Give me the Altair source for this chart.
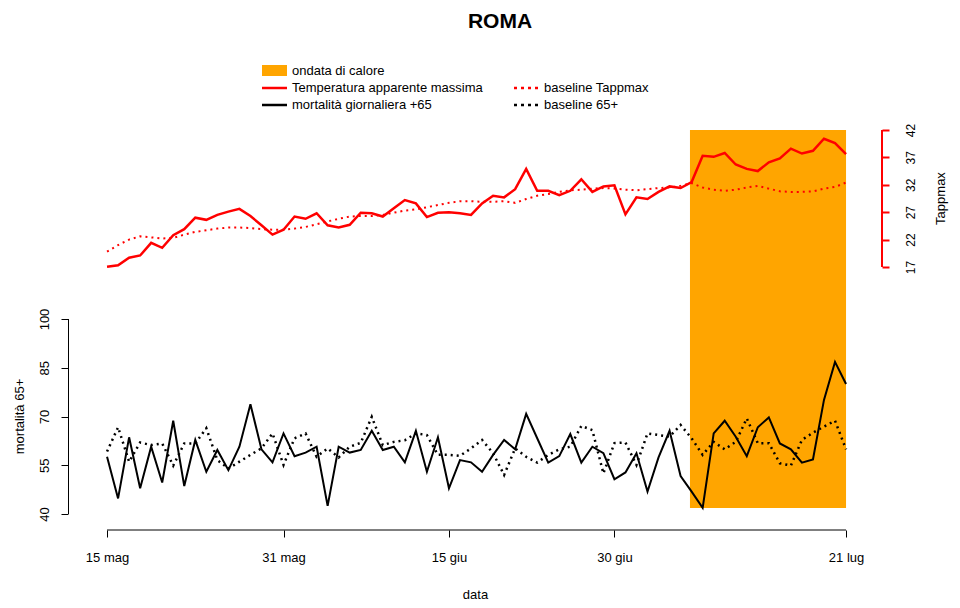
import altair as alt
import pandas as pd

temp = [17.05,17.3,18.7,19.1,21.4,20.5,22.8,23.9,26.0,25.6,26.5,27.1,27.6,26.3,24.6,22.9,23.8,26.2,25.8,26.8,
        24.6,24.2,24.7,26.9,26.8,26.2,27.7,29.2,28.6,26.1,26.9,27.0,26.8,26.5,28.6,30.0,29.7,31.2,34.9,30.9,
        30.9,30.1,30.9,33.0,30.7,31.7,31.9,26.6,29.7,29.4,30.7,31.7,31.4,32.5,37.3,37.1,37.8,35.7,34.9,34.5,
        36.1,36.8,38.6,37.7,38.2,40.4,39.6,37.6]
temp_base = [19.8,21.0,22.0,22.6,22.4,22.2,22.3,22.9,23.4,23.7,24.0,24.2,24.2,24.1,23.9,23.8,23.8,24.0,24.3,24.8,
             25.3,25.8,26.2,26.3,26.3,26.5,26.9,27.3,27.5,27.9,28.3,28.7,29.0,29.0,28.9,28.9,29.0,28.7,29.4,30.0,
             30.3,30.7,31.0,31.1,31.3,31.4,31.3,31.1,31.0,31.2,31.4,31.5,31.8,32.3,31.5,31.1,30.9,31.1,31.5,31.8,
             31.3,30.8,30.7,30.7,30.8,31.3,31.6,32.4]
mort = [57.6,44.8,63.6,47.9,60.7,49.7,68.7,48.6,62.8,53.0,59.7,53.5,60.7,73.8,59.9,55.9,64.8,57.8,58.9,60.7,
        42.5,60.7,58.9,59.7,65.6,59.7,60.7,55.9,65.6,53.0,63.6,47.9,56.6,55.9,53.0,58.2,62.8,59.9,70.8,63.3,
        55.8,57.8,64.6,55.8,60.7,58.7,50.7,52.8,58.7,46.9,57.4,65.6,51.7,46.9,41.9,64.8,68.7,63.8,57.8,66.7,
        69.7,61.7,59.9,55.8,56.8,75.1,86.8,80.0]
mort_base = [59.2,66.7,56.1,62.0,61.2,61.7,54.9,61.7,61.7,66.4,56.6,54.0,56.1,58.2,60.2,64.8,55.1,63.3,64.8,57.6,
             60.2,57.4,60.7,61.9,69.9,61.2,62.2,62.7,64.8,64.3,58.2,58.2,57.9,60.2,62.8,58.7,52.0,60.2,57.6,55.8,
             58.2,59.9,60.7,67.1,65.8,52.5,61.8,62.0,55.1,64.8,64.3,63.8,67.4,63.3,58.2,62.2,59.9,62.2,69.4,61.8,
             61.8,55.6,54.9,62.8,65.0,66.9,68.7,59.9]
tick_days = [0, 16, 31, 46, 67]
tick_labels = ["15 mag", "31 mag", "15 giu", "30 giu", "21 lug"]
wave_start, wave_end = 52.85, 67

W, H = 814, 410
FONT = "Liberation Sans"
df = pd.DataFrame({"day": list(range(len(temp))), "temp": temp, "temp_base": temp_base,
                   "mort": mort, "mort_base": mort_base})

lab_expr = "{" + ",".join(f"'{d}':'{l}'" for d, l in zip(tick_days, tick_labels)) + "}[''+datum.value]"
xs = alt.Scale(domain=[-3.54, 70.26], nice=False, zero=False)
xaxis = alt.Axis(values=tick_days, labelExpr=lab_expr, title="data", grid=False, domain=False,
                 tickColor="black", tickSize=7, labelPadding=14, titleY=64, titleBaseline="middle",
                 labelFontSize=13, titleFontSize=13, labelFont=FONT, titleFont=FONT,
                 labelColor="black", titleColor="black", labelFontWeight="normal", titleFontWeight="normal")

base = alt.Chart(df)

wave = alt.Chart(pd.DataFrame({"a": [wave_start], "b": [wave_end]})).mark_rect(color="#FFA500").encode(
    x=alt.X("a:Q", scale=xs, axis=xaxis), x2="b:Q", y=alt.value(10), y2=alt.value(388))

xline = alt.Chart(pd.DataFrame({"a": [tick_days[0]], "b": [tick_days[-1]]})).mark_rule(
    stroke="black", strokeWidth=1).encode(x="a:Q", x2="b:Q", y=alt.value(H))

ms = alt.Scale(domain=[35.08, 161.23], nice=False, zero=False)
my = alt.Axis(values=[40, 55, 70, 85, 100], title="mortalità 65+", orient="left", grid=False, domain=False,
              tickColor="black", tickSize=7, labelAngle=270, labelAlign="center", labelBaseline="bottom",
              labelPadding=10, titlePadding=12, titleY=296, labelFontSize=13, titleFontSize=13,
              labelFont=FONT, titleFont=FONT,
              labelColor="black", titleColor="black", titleFontWeight="normal")
mort_l = alt.layer(
    base.mark_line(color="black", strokeWidth=2).encode(x="day:Q", y=alt.Y("mort:Q", scale=ms, axis=my)),
    base.mark_line(color="black", strokeWidth=2.5, strokeDash=[2, 4]).encode(x="day:Q", y="mort_base:Q"),
    alt.Chart(pd.DataFrame({"mort": [40], "b": [100]})).mark_rule(stroke="black", strokeWidth=1).encode(
        x=alt.value(0.5), y="mort:Q", y2="b:Q"),
)

ts = alt.Scale(domain=[-31.0, 43.82], nice=False, zero=False)
ty = alt.Axis(values=[17, 22, 27, 32, 37, 42], title="Tappmax", orient="right", grid=False, domain=False,
              tickColor="red", tickWidth=2, tickSize=7, labelAngle=270, labelAlign="center", labelBaseline="bottom",
              labelPadding=28, titleAngle=270, titleX=58, titleY=78, titleAlign="center",
              titleBaseline="middle", labelFontSize=12, titleFontSize=13,
              labelFont=FONT, titleFont=FONT,
              labelColor="black", titleColor="black", titleFontWeight="normal")
temp_l = alt.layer(
    base.mark_line(color="red", strokeWidth=2.5).encode(x="day:Q", y=alt.Y("temp:Q", scale=ts, axis=ty)),
    base.mark_line(color="red", strokeWidth=2, strokeDash=[2, 4]).encode(x="day:Q", y="temp_base:Q"),
    alt.Chart(pd.DataFrame({"temp": [17], "b": [42]})).mark_rule(stroke="red", strokeWidth=2).encode(
        x=alt.value(W), y="temp:Q", y2="b:Q"),
)

# legend (page coords minus plot origin 68,120)
one = pd.DataFrame({"k": [0]})
def lrule(x1, y, color, dash=None):
    kw = {"strokeDash": dash} if dash else {}
    return alt.Chart(one).mark_rule(stroke=color, strokeWidth=2.5, **kw).encode(
        x=alt.value(x1), x2=alt.value(x1 + 25), y=alt.value(y))
def ltext(x, y, t, size=13, weight="normal"):
    return alt.Chart(one).mark_text(text=t, align="left", baseline="middle", font=FONT,
                                    fontSize=size, fontWeight=weight, color="black").encode(
        x=alt.value(x), y=alt.value(y))
legend = alt.layer(
    alt.Chart(one).mark_rect(color="#FFA500").encode(x=alt.value(194), x2=alt.value(219),
                                                     y=alt.value(-55), y2=alt.value(-44)),
    ltext(224, -49, "ondata di calore"),
    lrule(194, -32, "red"), ltext(224, -32, "Temperatura apparente massima"),
    lrule(446, -32, "red", [3, 4]), ltext(476, -32, "baseline Tappmax"),
    lrule(194, -15, "black"), ltext(224, -15, "mortalità giornaliera +65"),
    lrule(446, -15, "black", [3, 4]), ltext(476, -15, "baseline 65+"),
    alt.Chart(one).mark_text(text="ROMA", align="center", baseline="middle", font=FONT, fontSize=21,
                             fontWeight="bold", color="black").encode(x=alt.value(432), y=alt.value(-98)),
)

chart = alt.layer(wave, xline, mort_l, temp_l, legend).resolve_scale(y="independent").properties(
    width=W, height=H, autosize=alt.AutoSizeParams(type="none"),
    padding={"left": 60, "top": 112, "right": 70, "bottom": 78}
).configure(background="white").configure_view(stroke=None, strokeWidth=0)

chart.save("out.html", embed_options={"renderer": "svg", "actions": False})
